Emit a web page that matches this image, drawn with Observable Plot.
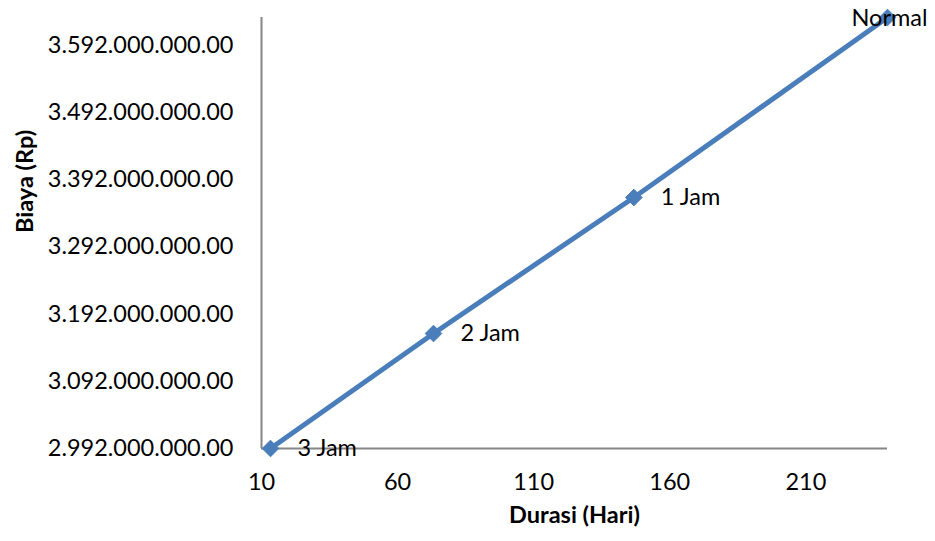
<!DOCTYPE html>
<html>
<head>
<meta charset="utf-8">
<script src="https://cdn.jsdelivr.net/npm/d3@7"></script>
<script src="https://cdn.jsdelivr.net/npm/@observablehq/plot@0.6"></script>
<style>
  html, body { margin: 0; padding: 0; background: #fff; }
</style>
</head>
<body>
<div id="chart"></div>
<script>
const labels = ["3 Jam", "2 Jam", "1 Jam", "Normal"];
const durasi = [13.3, 73.2, 146.8, 240];
const biaya = [2992000000, 3163100000, 3365500000, 3633400000];
const xTicks = [10, 60, 110, 160, 210];
const yTicks = [2992000000, 3092000000, 3192000000, 3292000000, 3392000000, 3492000000, 3592000000];
const xTitle = "Durasi (Hari)";
const yTitle = "Biaya (Rp)";

const data = labels.map((l, i) => ({label: l, x: durasi[i], y: biaya[i]}));

const fmt = v => {
  const s = Math.round(v).toString().replace(/\B(?=(\d{3})+(?!\d))/g, ".");
  return s + ".00";
};

const font = "Lato, 'Open Sans', sans-serif";
const blue = "#4A7EBB";
const fs = 23.5;

const chart = Plot.plot({
  width: 935,
  height: 541,
  marginLeft: 261,
  marginRight: 48,
  marginTop: 17,
  marginBottom: 93,
  style: {fontFamily: font, fontSize: fs + "px", color: "#000", background: "#fff"},
  x: {domain: [10, 240], ticks: xTicks, label: null},
  y: {domain: [2992000000, 3633400000], ticks: yTicks, label: null},
  marks: [
    Plot.axisX({ticks: xTicks, tickSize: 0, tickPadding: 25, label: null, fontSize: fs}),
    Plot.axisY({ticks: yTicks, tickSize: 0, tickPadding: 28, tickFormat: fmt, label: null, fontSize: fs}),
    Plot.ruleY([2992000000], {stroke: "#868686", strokeWidth: 2}),
    Plot.ruleX([10], {stroke: "#868686", strokeWidth: 2}),
    Plot.line(data, {x: "x", y: "y", stroke: blue, strokeWidth: 5}),
    Plot.dot(data, {x: "x", y: "y", symbol: "diamond2", r: 7.5, fill: blue, stroke: blue, strokeWidth: 1}),
    Plot.text(data.filter(d => d.label !== "Normal"), {x: "x", y: "y", text: "label", textAnchor: "start", dx: 27, fontSize: fs, fill: "#000"}),
    Plot.text(data.filter(d => d.label === "Normal"), {x: "x", y: "y", text: "label", textAnchor: "middle", dx: 2, dy: 1, fontSize: fs, fill: "#000"}),
    Plot.text([xTitle], {frameAnchor: "bottom", dy: 74, fontSize: fs, fontWeight: "bold", fill: "#000"}),
    Plot.text([yTitle], {frameAnchor: "left", dx: -236, rotate: -90, fontSize: fs, fontWeight: "bold", fill: "#000"})
  ]
});
document.getElementById("chart").appendChild(chart);
</script>
</body>
</html>
